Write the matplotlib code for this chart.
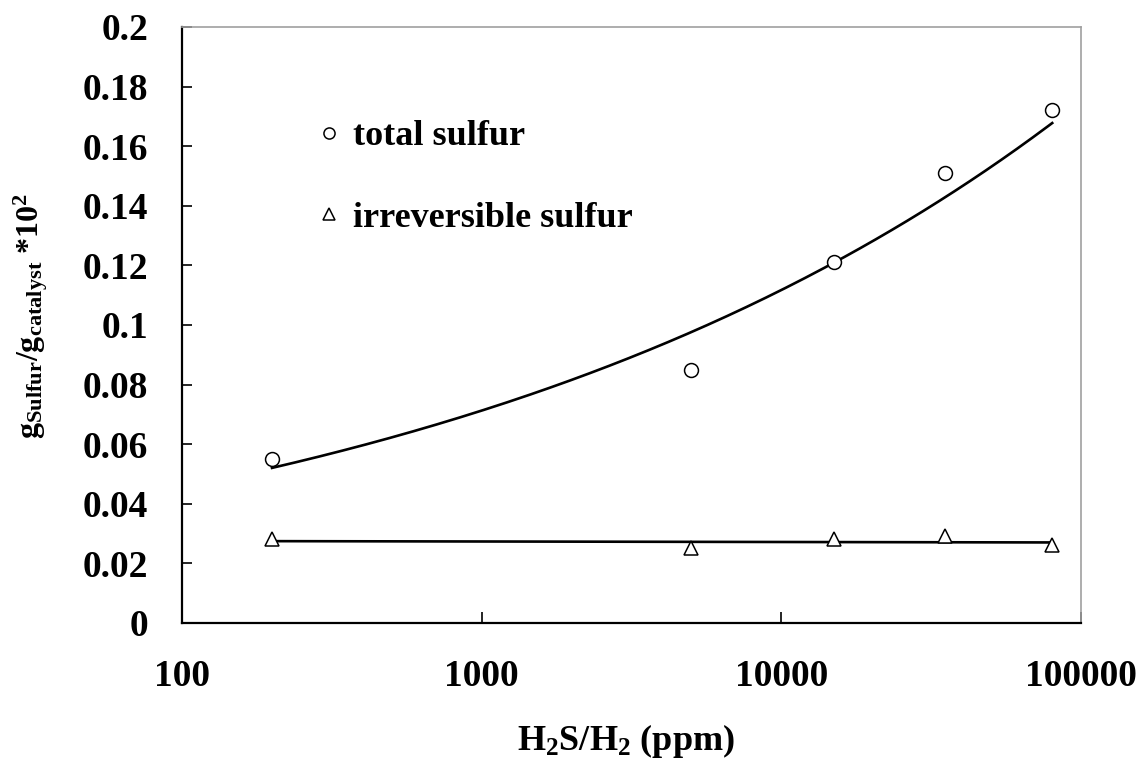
import numpy as np
import matplotlib
matplotlib.use("Agg")
import matplotlib.pyplot as plt

plt.rcParams['font.family'] = ['Liberation Serif', 'DejaVu Serif']
plt.rcParams['font.weight'] = 'bold'
plt.rcParams['mathtext.fontset'] = 'custom'
plt.rcParams['mathtext.rm'] = 'Liberation Serif:bold'
plt.rcParams['mathtext.bf'] = 'Liberation Serif:bold'
plt.rcParams['mathtext.it'] = 'Liberation Serif:bold'

# Data
h2s_ppm = [200, 5000, 15000, 35000, 80000]
total_sulfur = [0.055, 0.085, 0.121, 0.151, 0.172]
irreversible_sulfur = [0.028, 0.025, 0.028, 0.029, 0.026]
xticks = [100, 1000, 10000, 100000]
yticks = [0, 0.02, 0.04, 0.06, 0.08, 0.1, 0.12, 0.14, 0.16, 0.18, 0.2]
ytick_labels = ['0', '0.02', '0.04', '0.06', '0.08', '0.1', '0.12', '0.14', '0.16', '0.18', '0.2']

fig = plt.figure(figsize=(11.43, 7.69), dpi=100)
ax = fig.add_axes([0.159, 0.190, 0.787, 0.775])

x = np.array(h2s_ppm, dtype=float)
xf = np.geomspace(x.min(), x.max(), 200)
for ys in (total_sulfur, irreversible_sulfur):
    b, a = np.polyfit(np.log(x), np.log(ys), 1)
    ax.plot(xf, np.exp(a) * xf ** b, color='black', lw=1.9, zorder=2)

ax.plot(h2s_ppm, total_sulfur, linestyle='none', marker='o', markersize=10,
        markerfacecolor='white', markeredgecolor='black', markeredgewidth=1.1,
        label='total sulfur', zorder=3)
ax.plot(h2s_ppm, irreversible_sulfur, linestyle='none', marker='^', markersize=10,
        markerfacecolor='white', markeredgecolor='black', markeredgewidth=1.1,
        label='irreversible sulfur', zorder=3)

ax.set_xscale('log')
ax.set_xlim(100, 100000)
ax.set_ylim(0, 0.2)
ax.set_xticks(xticks)
ax.set_xticklabels([str(t) for t in xticks])
ax.xaxis.set_minor_locator(matplotlib.ticker.NullLocator())
ax.set_yticks(yticks)
ax.set_yticklabels(ytick_labels)

ax.tick_params(axis='y', direction='in', length=7, width=1.2, pad=24, labelsize=27)
ax.tick_params(axis='x', direction='in', length=8, width=1.2, pad=26, labelsize=27)
for lab in ax.get_xticklabels() + ax.get_yticklabels():
    lab.set_fontweight('bold')

for s in ('left', 'bottom'):
    ax.spines[s].set_linewidth(1.6)
    ax.spines[s].set_color('black')
for s in ('top', 'right'):
    ax.spines[s].set_linewidth(1.2)
    ax.spines[s].set_color('#a0a0a0')

ax.set_xlabel(r'H$_\mathbf{2}$S/H$_\mathbf{2}$ (ppm)', fontsize=26, fontweight='bold')
ax.set_ylabel(r'g$_{\mathbf{Sulfur}}$/g$_{\mathbf{catalyst}}$ *10$^\mathbf{2}$', fontsize=23,
              fontweight='bold')
ax.yaxis.set_label_coords(-0.147, 0.515)
ax.xaxis.set_label_coords(0.494, -0.166)

leg = ax.legend(loc='upper left', bbox_to_anchor=(0.116, 0.898), frameon=False,
                handlelength=0.6, handletextpad=0.35, labelspacing=1.33,
                markerscale=0.8, prop={'weight': 'bold', 'size': 26})

fig.savefig('out.png', dpi=100)
